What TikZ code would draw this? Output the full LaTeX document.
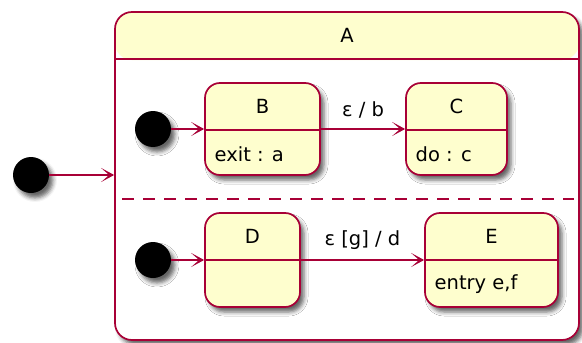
\documentclass[tikz,border=0pt]{standalone}
\usepackage{fontspec}
\setmainfont{DejaVu Sans}
\usepackage{xcolor}
\definecolor{umlred}{RGB}{168,0,54}
\definecolor{umlfill}{RGB}{254,254,206}
\usepackage{tikz}
\usetikzlibrary{positioning}
\usetikzlibrary{arrows.meta}
\usetikzlibrary{shadows.blur}

\begin{document}
\begin{tikzpicture}[x=1pt,y=-1pt,
  every node/.style={font=\fontsize{19.5}{23}\selectfont,text=black},
  state/.style={draw=umlred,fill=umlfill,line width=1.7pt,rounded corners=15pt,inner sep=0pt,
    blur shadow={shadow xshift=4pt,shadow yshift=-5pt,shadow blur radius=4pt,shadow opacity=60}},
  header/.style={path picture={\fill[umlfill] (path picture bounding box.north west)
    rectangle ([yshift=-48pt]path picture bounding box.north east);}},
  start/.style={circle,fill=black,minimum size=36pt,inner sep=0pt,
    blur shadow={shadow xshift=4pt,shadow yshift=-5pt,shadow blur radius=4pt,shadow opacity=60}},
  trans/.style={draw=umlred,line width=1.3pt,-{Stealth[length=13pt,width=14pt,inset=8pt]}}]
\useasboundingbox (0,0) rectangle (582,343);

% composite state
\node[state,header,fill=white,minimum width=464pt,minimum height=328pt,rounded corners=17pt] (A) at (347,176) {};
\draw[umlred,line width=1.7pt] ([yshift=-48pt]A.north west) -- ([yshift=-48pt]A.north east);
\node (Atitle) at ([yshift=-24pt]A.north) {A};
\draw[umlred,line width=1.7pt,dash pattern=on 12pt off 9pt] ([xshift=8pt,yshift=-188pt]A.north west) -- ([xshift=-6pt,yshift=-188pt]A.north east);

% inner states: name/x/y/width/height/title/body
\foreach \n/\x/\y/\w/\h/\t/\b in {B/262.5/129/115/92/B/exit : a,
    C/456.5/129/101/92/C/do : c,
    D/252.5/260/95/94/D/{},
    E/491.5/260/133/94/E/{entry e,f}}{
  \node[state,minimum width=\w pt,minimum height=\h pt] (\n) at (\x,\y) {};
  \draw[umlred,line width=1.7pt] ([yshift=-48pt]\n.north west) -- ([yshift=-48pt]\n.north east);
  \node (\n title) at ([yshift=-24pt]\n.north) {\t};
  \node[anchor=west] (\n body) at ([xshift=7pt,yshift=-72pt]\n.north west) {\b};
}

% initial states
\node[start] (i0) at (31,175) {};
\node[start] (i1) at (153,129) {};
\node[start] (i2) at (153,260) {};

% transitions
\draw[trans] (i0) -- (i0 -| A.west);
\draw[trans] (i1) -- (B.west);
\draw[trans] (i2) -- (D.west);
\draw[trans] (B.east) -- node[above=7pt] (lbl1) {ε / b} (C.west);
\draw[trans] (D.east) -- node[above=6pt] (lbl2) {ε [g] / d} (E.west);
\end{tikzpicture}
\end{document}
